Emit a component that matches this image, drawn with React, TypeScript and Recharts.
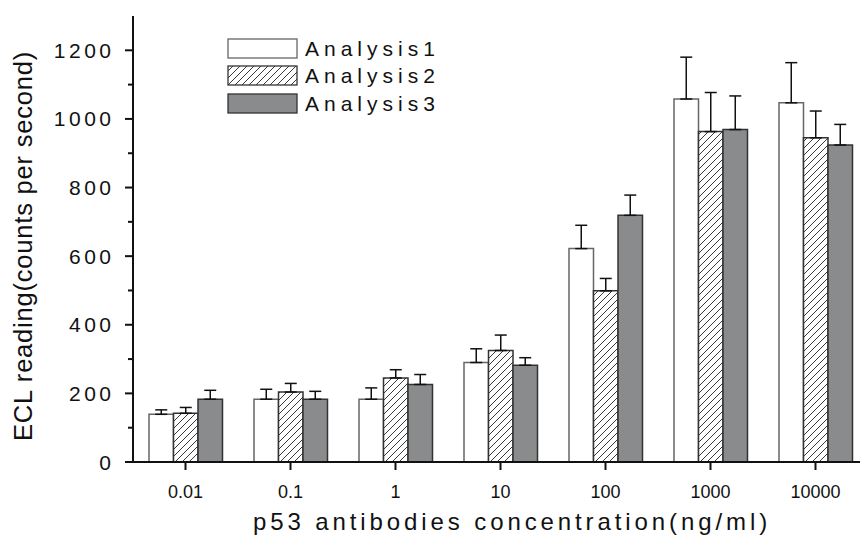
import React from "react";
import { BarChart, Bar, XAxis, YAxis, ErrorBar, Legend } from "recharts";

const categories = ["0.01", "0.1", "1", "10", "100", "1000", "10000"];
const analysis1 = [139, 183, 183, 290, 622, 1058, 1047];
const analysis2 = [142, 204, 245, 325, 499, 963, 945];
const analysis3 = [183, 183, 226, 282, 719, 969, 924];
const err1 = [13, 29, 33, 40, 68, 122, 117];
const err2 = [17, 25, 24, 45, 36, 114, 78];
const err3 = [26, 23, 29, 22, 59, 98, 60];
const yTicks = [0, 100, 200, 300, 400, 500, 600, 700, 800, 900, 1000, 1100, 1200];

const data = categories.map((c, i) => ({
  conc: c,
  a1: analysis1[i],
  a2: analysis2[i],
  a3: analysis3[i],
  e1: [0, err1[i]],
  e2: [0, err2[i]],
  e3: [0, err3[i]],
}));

const FONT = "'Liberation Sans', Arial, sans-serif";

const YTick = ({ x, y, payload }: { x: number; y: number; payload: { value: number } }) => {
  const major = payload.value % 200 === 0;
  return (
    <g>
      <line x1={x - (major ? 8 : 5)} x2={x} y1={y} y2={y} stroke="#111" strokeWidth={2} />
      {major && (
        <text x={x - 18.5} y={y} dy="0.36em" textAnchor="end" fontSize={21} fontFamily={FONT} fill="#111" style={{ letterSpacing: 3.5 }}>
          {payload.value}
        </text>
      )}
    </g>
  );
};

const legendItems = [
  { label: "Analysis1", fill: "#fff", stroke: "#666" },
  { label: "Analysis2", fill: "url(#lgHatch)", stroke: "#333" },
  { label: "Analysis3", fill: "#8a8b8d", stroke: "#333" },
];

const renderLegend = () => (
  <div style={{ fontFamily: FONT }}>
    {legendItems.map((it, i) => (
      <div key={i} style={{ display: "flex", alignItems: "center", height: 27.3 }}>
        <svg width={71} height={21} style={{ display: "block" }}>
          <defs>
            <pattern id="lgHatch" width={7} height={7} patternUnits="userSpaceOnUse">
              <rect width={7} height={7} fill="#fff" />
              <path d="M0,7 L7,0 M-2,2 L2,-2 M5,9 L9,5" stroke="#222" strokeWidth={0.9} />
            </pattern>
          </defs>
          <rect x={1} y={1} width={69} height={19} fill={it.fill} stroke={it.stroke} strokeWidth={1.3} />
        </svg>
        <span style={{ fontSize: 21, letterSpacing: 5, color: "#111", marginLeft: 7, lineHeight: "21px" }}>{it.label}</span>
      </div>
    ))}
  </div>
);

export default function App() {
  return (
    <div style={{ width: 860, height: 535 }}>
      <style>{`body{margin:0}`}</style>
      <BarChart
        width={860}
        height={535}
        data={data}
        margin={{ top: 16, right: 0, bottom: 0, left: 0 }}
        barGap={0}
        barSize={24.5}
      >
        <defs>
          <pattern id="hatch" width={7} height={7} patternUnits="userSpaceOnUse">
            <rect width={7} height={7} fill="#fff" />
            <path d="M0,7 L7,0 M-2,2 L2,-2 M5,9 L9,5" stroke="#222" strokeWidth={0.9} />
          </pattern>
        </defs>
        <XAxis
          dataKey="conc"
          height={73}
          padding={{ left: 0, right: -8 }}
          axisLine={{ stroke: "#111", strokeWidth: 2 }}
          tickLine={{ stroke: "#111", strokeWidth: 2 }}
          tickSize={8}
          tickMargin={15}
          tick={{ fontSize: 18, fontFamily: FONT, fill: "#111" }}
          label={{
            content: () => (
              <text x={512} y={521} dy="0.36em" textAnchor="middle" fontSize={24} fontFamily={FONT} fill="#111" style={{ letterSpacing: 3.9 }}>
                p53 antibodies concentration(ng/ml)
              </text>
            ),
          }}
        />
        <YAxis
          width={133}
          domain={[0, 1300]}
          ticks={yTicks}
          interval={0}
          axisLine={{ stroke: "#111", strokeWidth: 2 }}
          tickLine={false}
          tickSize={0}
          tickMargin={0}
          tick={YTick}
          label={{
            content: () => (
              <text
                x={23}
                y={246}
                dy="0.36em"
                textAnchor="middle"
                transform="rotate(-90 23 246)"
                fontSize={25.5}
                fontFamily={FONT}
                fill="#111"
                style={{ letterSpacing: 0.8 }}
              >
                ECL reading(counts per second)
              </text>
            ),
          }}
        />
        <Legend
          layout="vertical"
          align="center"
          verticalAlign="middle"
          content={renderLegend}
          wrapperStyle={{ position: "absolute", left: 227, top: 35, width: 260, height: 90 }}
        />
        <Bar dataKey="a1" name="Analysis1" fill="#fff" stroke="#666" strokeWidth={1.5} isAnimationActive={false}>
          <ErrorBar dataKey="e1" width={6} stroke="#111" strokeWidth={1.5} direction="y" />
        </Bar>
        <Bar dataKey="a2" name="Analysis2" fill="url(#hatch)" stroke="#333" strokeWidth={1.5} isAnimationActive={false}>
          <ErrorBar dataKey="e2" width={6} stroke="#111" strokeWidth={1.5} direction="y" />
        </Bar>
        <Bar dataKey="a3" name="Analysis3" fill="#8a8b8d" stroke="#333" strokeWidth={1.5} isAnimationActive={false}>
          <ErrorBar dataKey="e3" width={6} stroke="#111" strokeWidth={1.5} direction="y" />
        </Bar>
      </BarChart>
    </div>
  );
}
